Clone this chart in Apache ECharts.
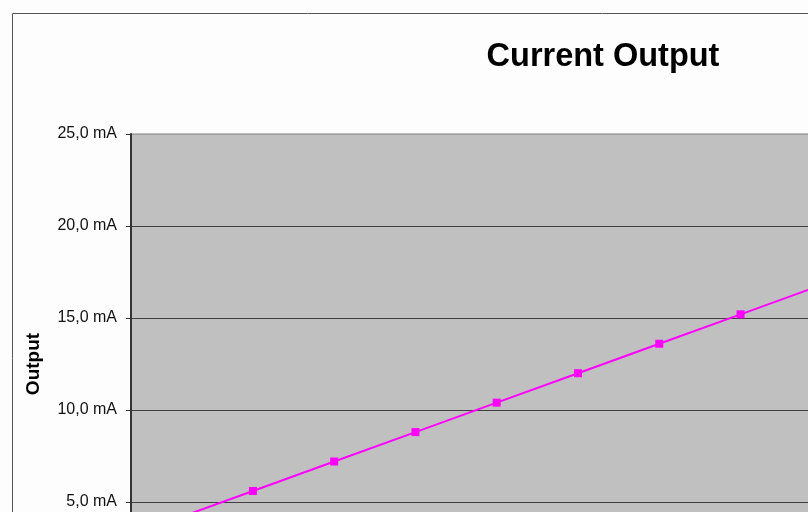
<!DOCTYPE html>
<html>
<head>
<meta charset="utf-8">
<title>Current Output</title>
<script src="https://cdn.jsdelivr.net/npm/echarts@6/dist/echarts.min.js"></script>
<style>
  html, body { margin: 0; padding: 0; overflow: hidden; background: #fdfdfd; }
  #chart { position: absolute; left: 0; top: 0; width: 1206px; height: 720px; }
</style>
</head>
<body>
<div id="chart"></div>
<script>
// Input position (percent of span) and the resulting loop current in mA
const categories = ['0%', '10%', '20%', '30%', '40%', '50%', '60%', '70%', '80%', '90%', '100%'];
const outputMA = [4.0, 5.6, 7.2, 8.8, 10.4, 12.0, 13.6, 15.2, 16.8, 18.4, 20.0];
const yTicks = { min: 0, max: 25, interval: 5 };

const FONT = 'Arial, "Liberation Sans", sans-serif';

const chart = echarts.init(document.getElementById('chart'), null, { renderer: 'canvas' });

chart.setOption({
  backgroundColor: '#fdfdfd',
  animation: false,
  title: {
    text: 'Current Output',
    left: 'center',
    top: 36,
    textStyle: { fontFamily: FONT, fontSize: 32.5, fontWeight: 'bold', color: '#000' }
  },
  graphic: [{
    type: 'rect',
    shape: { x: 12.5, y: 13.5, width: 1180, height: 690 },
    style: { fill: 'none', stroke: '#555', lineWidth: 1 },
    silent: true
  }],
  grid: {
    left: 131, top: 134, width: 894, height: 460,
    show: true,
    backgroundColor: '#c0c0c0',
    borderColor: '#808080',
    borderWidth: 1
  },
  xAxis: {
    type: 'category',
    data: categories,
    boundaryGap: true,
    axisLine: { lineStyle: { color: '#333', width: 2 } },
    axisTick: { show: true, alignWithLabel: false, lineStyle: { color: '#333' } },
    axisLabel: { fontFamily: FONT, fontSize: 16, color: '#000' }
  },
  yAxis: {
    type: 'value',
    min: yTicks.min,
    max: yTicks.max,
    interval: yTicks.interval,
    name: 'Output',
    nameLocation: 'middle',
    nameGap: 88,
    nameTextStyle: { fontFamily: FONT, fontSize: 19, fontWeight: 'bold', color: '#000' },
    axisLine: { show: true, lineStyle: { color: '#333', width: 2 } },
    axisTick: { show: true, inside: false, length: 5, lineStyle: { color: '#333' } },
    axisLabel: {
      margin: 14,
      fontFamily: FONT,
      fontSize: 16,
      color: '#111',
      formatter: v => v.toFixed(1).replace('.', ',') + ' mA'
    },
    splitLine: { show: true, showMaxLine: false, lineStyle: { color: '#404040', width: 1 } }
  },
  series: [{
    type: 'line',
    data: outputMA,
    symbol: 'rect',
    symbolSize: 8,
    showAllSymbol: true,
    lineStyle: { color: '#ff00ff', width: 2 },
    itemStyle: { color: '#ff00ff' },
    z: 5
  }]
});
</script>
</body>
</html>
